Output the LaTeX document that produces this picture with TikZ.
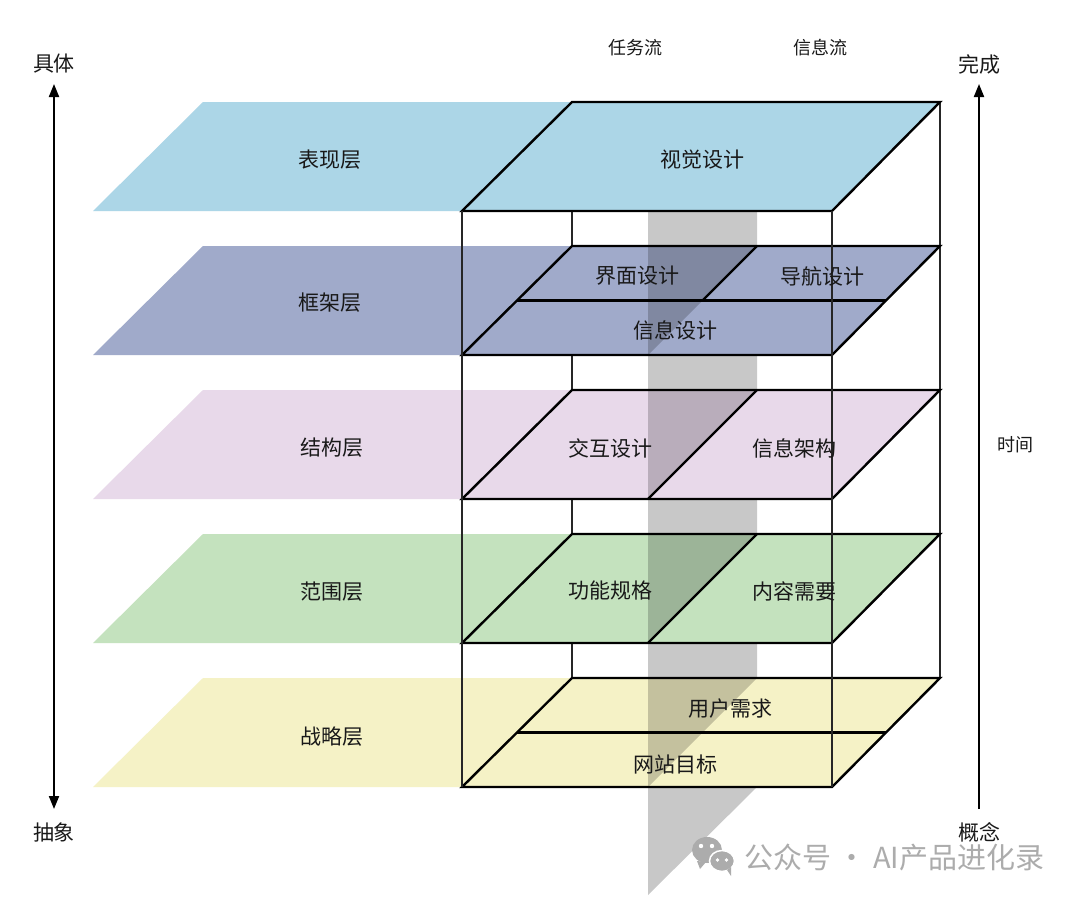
\documentclass[tikz,border=0pt]{standalone}
\usepackage{fontspec}
\setmainfont{Noto Sans CJK SC}
\usetikzlibrary{arrows.meta}
\definecolor{cA}{RGB}{172,214,231}
\definecolor{cB}{RGB}{160,170,202}
\definecolor{cC}{RGB}{232,217,234}
\definecolor{cD}{RGB}{196,226,190}
\definecolor{cE}{RGB}{245,242,198}
\definecolor{cBand}{RGB}{200,200,200}
\definecolor{cMark}{RGB}{172,172,172}
\begin{document}
\begin{tikzpicture}[x=1pt,y=-1pt,
  lbl/.style={font=\fontsize{21}{21}\selectfont, text=black!90, inner sep=0pt},
  toplbl/.style={font=\fontsize{18}{18}\selectfont, text=black!90, inner sep=0pt},
  plate/.style={draw=black, line width=2.4pt, line join=miter},
  edgeline/.style={draw=black!85, line width=1.2pt},
  shadeover/.style={fill=black, fill opacity=0.2},
  axisline/.style={line width=2pt, draw=black},
  tip/.tip={Triangle[length=13pt,width=10pt]}]
\useasboundingbox[fill=white] (0,0) rectangle (1080,902);

% left planes
\foreach \yb/\c in {102/cA,246/cB,390/cC,534/cD,678/cE}{
  \pgfmathsetmacro\yf{\yb+109}
  \fill[\c] (93,\yf) -- (203,\yb) -- (572,\yb) -- (462,\yf) -- cycle;
}

% gray flow plane
\fill[cBand] (648,895) -- (757,787) -- (757,102) -- (648,211) -- cycle;

% back verticals
\draw[edgeline] (572,102) -- (572,678);
\draw[edgeline] (940,102) -- (940,678);

% layer 1
\filldraw[plate, fill=cA] (462,211) -- (572,102) -- (940,102) -- (832,211) -- cycle;

% layer 2
\fill[cB] (462,355) -- (572,246) -- (940,246) -- (832,355) -- cycle;
\fill[shadeover] (648,355) -- (648,246) -- (757,246) -- cycle;
\draw[plate] (462,355) -- (572,246) -- (940,246) -- (832,355) -- cycle;
\draw[plate] (517,300.5) -- (886,300.5);
\draw[plate] (702.5,300.5) -- (757,246);

% layer 3
\fill[cC] (462,499) -- (572,390) -- (940,390) -- (832,499) -- cycle;
\fill[shadeover] (648,499) -- (648,390) -- (757,390) -- cycle;
\draw[plate] (462,499) -- (572,390) -- (940,390) -- (832,499) -- cycle;
\draw[plate] (648,499) -- (757,390);

% layer 4
\fill[cD] (462,643) -- (572,534) -- (940,534) -- (832,643) -- cycle;
\fill[shadeover] (648,643) -- (648,534) -- (757,534) -- cycle;
\draw[plate] (462,643) -- (572,534) -- (940,534) -- (832,643) -- cycle;
\draw[plate] (648,643) -- (757,534);

% layer 5
\fill[cE] (462,787) -- (572,678) -- (940,678) -- (832,787) -- cycle;
\fill[shadeover] (648,787) -- (648,678) -- (757,678) -- cycle;
\draw[plate] (462,787) -- (572,678) -- (940,678) -- (832,787) -- cycle;
\draw[plate] (517,732.5) -- (886,732.5);

% front verticals
\draw[edgeline] (462,211) -- (462,787);
\draw[edgeline] (832,211) -- (832,787);

% left layer labels
\node[lbl] (l1) at (330,160) {表现层};
\node[lbl] (l2) at (330,303) {框架层};
\node[lbl] (l3) at (332,448) {结构层};
\node[lbl] (l4) at (332,592) {范围层};
\node[lbl] (l5) at (332,737) {战略层};

% cube labels
\node[lbl] (vis) at (702,160) {视觉设计};
\node[lbl] (ui) at (637,276) {界面设计};
\node[lbl] (nav) at (822,276) {导航设计};
\node[lbl] (info) at (675,330) {信息设计};
\node[lbl] (ixd) at (610,448) {交互设计};
\node[lbl] (ia) at (794,448) {信息架构};
\node[lbl] (func) at (610,591) {功能规格};
\node[lbl] (cont) at (794,591) {内容需要};
\node[lbl] (user) at (730,709) {用户需求};
\node[lbl] (goal) at (675,764) {网站目标};

% top labels
\node[toplbl] (task) at (635,48) {任务流};
\node[toplbl] (flow) at (820,48) {信息流};

% axes
\node[lbl] (concrete) at (54,64) {具体};
\node[lbl] (abstract) at (54,832) {抽象};
\node[lbl] (done) at (979,64) {完成};
\node[lbl] (concept) at (979,832) {概念};
\node[toplbl] (time) at (1015,445) {时间};
\coordinate (ltop) at (54,84);
\coordinate (lbot) at (54,809);
\coordinate (rtop) at (979,84);
\coordinate (rbot) at (979,809);
\draw[axisline, tip-tip] (lbot) -- (ltop);
\draw[axisline, -tip] (rbot) -- (rtop);

% watermark
\fill[cMark] (707,850) ellipse [x radius=15, y radius=13];
\fill[cMark] (697,861) -- (700,869) -- (706,862) -- cycle;
\filldraw[fill=cMark, draw=white, line width=1.5pt] (722,861) ellipse [x radius=12.5, y radius=10.5];
\fill[cMark] (727,870) -- (731,876) -- (731,867) -- cycle;
\fill[white] (701,846) circle (2.2) (712,846) circle (2.2);
\fill[white] (717.5,860) circle (1.8) (726.5,860) circle (1.8);
\node[font=\fontsize{29}{29}\selectfont, text=cMark, inner sep=0pt, anchor=west] (mark) at (744,857) {公众号 · AI产品进化录};
\end{tikzpicture}
\end{document}
